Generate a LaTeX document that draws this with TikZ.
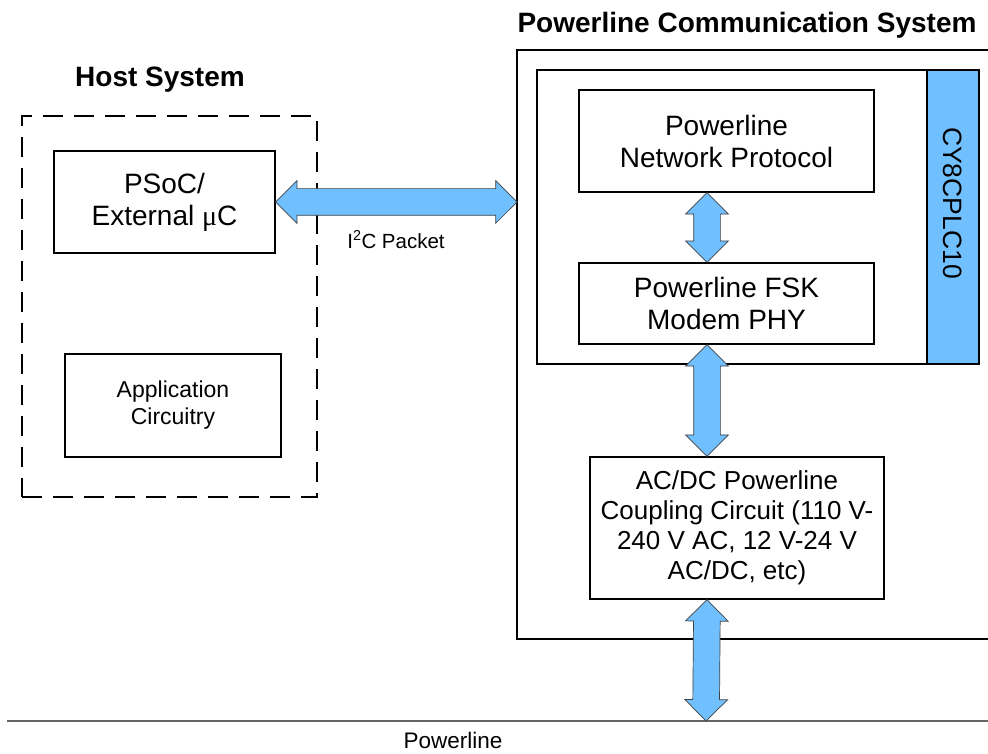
\documentclass[tikz,border=0pt]{standalone}
\usepackage{fontspec}
\setmainfont{Liberation Sans}
\newfontfamily\serifgr{Liberation Serif}
\usetikzlibrary{shapes.arrows,calc}

\definecolor{plcblue}{RGB}{112,192,255}

\tikzset{
  box/.style={draw, line width=1.4pt, inner sep=0pt, align=center, font=\fontsize{28}{32}\selectfont},
  title/.style={anchor=base, font=\bfseries\fontsize{28}{32}\selectfont},
  fatarrow/.style={double arrow, draw=black!75, fill=plcblue, line width=0.7pt, inner xsep=0pt, inner ysep=13pt,
    minimum width=42pt, double arrow head extend=8pt, anchor=center}
}

% fat double arrow between two named points
\newcommand{\fatlink}[2]{%
  \path let \p1=(#1), \p2=(#2), \n1={veclen(\x2-\x1,\y2-\y1)}, \n2={atan2(\y2-\y1,\x2-\x1)}
    in node[fatarrow, minimum height=\n1, rotate=\n2] at ($(#1)!0.5!(#2)$) {};}

\begin{document}
\begin{tikzpicture}[x=1pt, y=-1pt]
    \useasboundingbox (0,0) rectangle (988,754);

    % host side
    \node[title] (hosttitle) at (160,87) {Host System};
    \node[draw, line width=2.6pt, dash pattern=on 20pt off 11pt, minimum width=295pt, minimum height=381pt]
        (host) at (169.5,306.5) {};
    \node[box, minimum width=221pt, minimum height=102pt] (psoc) at (164.5,202) {PSoC/\\External {\serifgr μ}C};
    \node[box, minimum width=216pt, minimum height=103pt, font=\fontsize{23}{27}\selectfont]
        (app) at (173,405.5) {Application\\Circuitry};

    % powerline communication system
    \node[title] (pcstitle) at (747,33) {Powerline Communication System};
    \draw[line width=1.3pt] (990,50) -- (517,50) -- (517,639) -- (990,639);
    \coordinate (pcsL) at (517,202);

    \node[draw, fill=plcblue, line width=2.4pt, minimum width=52pt, minimum height=294pt] (bar) at (953,217) {};
    \node[font=\fontsize{26.5}{30}\selectfont, rotate=-90] (chipname) at (953,203) {CY8CPLC10};
    \node[draw, line width=2.8pt, minimum width=442pt, minimum height=294pt] (chip) at (758,217) {};

    \node[box, minimum width=295pt, minimum height=102pt] (proto) at (726.5,141) {Powerline\\Network Protocol};
    \node[box, minimum width=295pt, minimum height=81pt] (fsk) at (726.5,303.5) {Powerline FSK\\Modem PHY};
    \node[box, minimum width=294pt, minimum height=142pt, font=\fontsize{26}{30}\selectfont]
        (acdc) at (737,528) {AC/DC Powerline\\Coupling Circuit (110 V-\\240 V AC, 12 V-24 V\\AC/DC, etc)};

    % powerline
    \draw[line width=1.2pt, black!60] (7,721) -- (990,721);
    \coordinate (tap) at (706,721);
    \node[anchor=base, font=\fontsize{22.5}{26}\selectfont] (pl) at (453,748) {Powerline};

    % links
    \coordinate (vx) at (707,0);
    \fatlink{psoc.east}{pcsL}
    \fatlink{proto.south -| vx}{fsk.north -| vx}
    \fatlink{fsk.south -| vx}{acdc.north -| vx}
    \fatlink{acdc.south -| vx}{tap}
    \node[anchor=base, font=\fontsize{20.5}{24}\selectfont] (i2c) at (396,248) {I\textsuperscript{2}C Packet};
\end{tikzpicture}
\end{document}
